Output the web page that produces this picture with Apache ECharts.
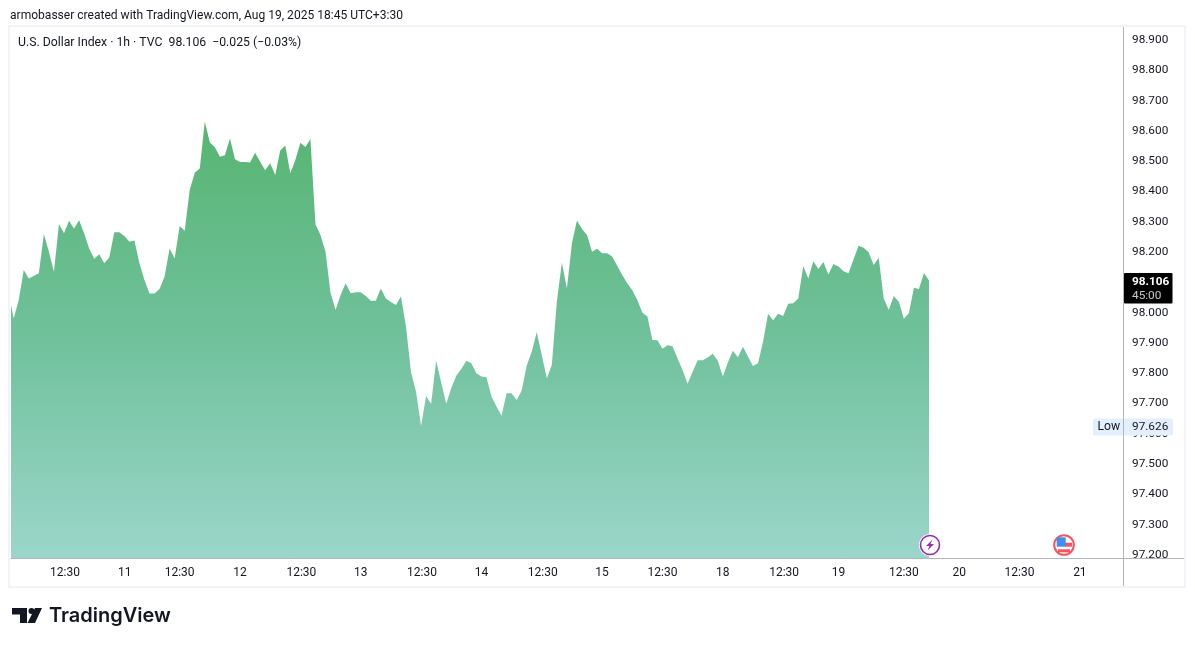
<!DOCTYPE html>
<html><head><meta charset="utf-8">
<style>html,body{margin:0;padding:0;background:#fff}#c{width:1195px;height:646px}</style>
<script src="https://cdn.jsdelivr.net/npm/echarts@6/dist/echarts.min.js"></script>
</head><body><div id="c"></div>
<script>
const prices = [98.064,97.981,98.042,98.141,98.113,98.121,98.130,98.260,98.201,98.135,98.293,98.262,98.303,98.277,98.305,98.262,98.212,98.178,98.193,98.163,98.182,98.265,98.265,98.253,98.234,98.238,98.163,98.108,98.063,98.063,98.078,98.119,98.212,98.179,98.286,98.270,98.405,98.462,98.476,98.631,98.562,98.546,98.515,98.520,98.575,98.506,98.497,98.497,98.496,98.528,98.498,98.470,98.493,98.454,98.535,98.552,98.460,98.504,98.561,98.547,98.573,98.292,98.256,98.201,98.066,98.009,98.058,98.097,98.064,98.067,98.067,98.055,98.039,98.039,98.080,98.047,98.035,98.025,98.053,97.954,97.803,97.739,97.626,97.725,97.699,97.841,97.769,97.699,97.750,97.792,97.814,97.841,97.833,97.800,97.789,97.787,97.723,97.690,97.660,97.734,97.734,97.712,97.742,97.825,97.871,97.935,97.860,97.783,97.827,98.036,98.165,98.080,98.229,98.304,98.276,98.256,98.201,98.211,98.196,98.196,98.185,98.155,98.124,98.097,98.074,98.042,98.000,97.987,97.910,97.909,97.881,97.892,97.889,97.849,97.811,97.765,97.805,97.843,97.843,97.852,97.864,97.841,97.789,97.835,97.874,97.853,97.887,97.855,97.824,97.833,97.904,97.996,97.975,97.996,97.989,98.029,98.031,98.047,98.154,98.113,98.170,98.144,98.167,98.126,98.161,98.152,98.137,98.130,98.176,98.221,98.214,98.199,98.157,98.181,98.047,98.009,98.055,98.036,97.980,97.998,98.082,98.078,98.131,98.106];
const priceTicks = [97.2,97.3,97.4,97.5,97.6,97.7,97.8,97.9,98.0,98.2,98.3,98.4,98.5,98.6,98.7,98.8,98.9];
const timeLabels = ['12:30','11','12:30','12','12:30','13','12:30','14','12:30','15','12:30','18','12:30','19','12:30','20','12:30','21'];
const timeBars = [11.2,23.1,34,46,58.2,70,82.2,94,106.2,118,130,142,154.2,165,178,189,201,213];
const lastPrice = 98.106, lowPrice = 97.626;

const FONT = 'Roboto';
const TXT = '#131722';
const LINE = '#b2b5be';
const barPx = (929 - 8.67) / (prices.length - 1);
const chart = echarts.init(document.getElementById('c'), null, {renderer:'canvas'});
chart.setOption({
  animation:false,
  backgroundColor:'#fff',
  textStyle:{fontFamily:FONT},
  grid:{left:11,right:72,top:27,bottom:88,containLabel:false},
  xAxis:{type:'value',min:(11-8.67)/barPx,max:(1123-8.67)/barPx,
    splitLine:{show:false},axisTick:{show:false},
    axisLine:{show:true,onZero:false,lineStyle:{color:LINE,width:1}},
    axisLabel:{customValues:timeBars,color:TXT,fontSize:12,fontFamily:FONT,margin:9,showMinLabel:true,showMaxLabel:true,hideOverlap:false,
      formatter:(v)=>timeLabels[timeBars.indexOf(v)]}},
  yAxis:{type:'value',position:'right',min:97.19,max:98.943,
    splitLine:{show:false},axisTick:{show:false},
    axisLine:{show:true,onZero:false,lineStyle:{color:LINE,width:1}},
    axisLabel:{customValues:priceTicks,color:TXT,fontSize:11.8,fontFamily:FONT,margin:9,padding:[7,0,0,0],align:'left',hideOverlap:false,
      formatter:(v)=>v.toFixed(3)}},
  series:[{type:'line',data:prices.map((p,i)=>[i,p]),symbol:'none',showSymbol:false,smooth:false,
    lineStyle:{width:0},
    areaStyle:{opacity:1,color:new echarts.graphic.LinearGradient(0,0,0,1,[{offset:0,color:'#57b571'},{offset:0.5,color:'#70c19c'},{offset:1,color:'#9bd6ca'}])}}]
});
const yLast = chart.convertToPixel({yAxisIndex:0},lastPrice);
const yLow = chart.convertToPixel({yAxisIndex:0},lowPrice);
const t=(x,y,text,o={})=>({type:'text',z:20,style:Object.assign({x,y,text,fill:TXT,font:'11.8px '+FONT,textVerticalAlign:'middle'},o)});
const g=[
  {type:'rect',z:1,shape:{x:9,y:26,width:1176,height:561},style:{fill:'none',stroke:'#f0f3fa',lineWidth:2}},
  {type:'rect',z:15,shape:{x:1124,y:558.5,width:59,height:27},style:{fill:'#fff'}},
  {type:'line',z:16,shape:{x1:1123.5,y1:558,x2:1123.5,y2:586},style:{stroke:LINE,lineWidth:1}},
  {type:'line',z:16,shape:{x1:1123,y1:558.5,x2:1184,y2:558.5},style:{stroke:LINE,lineWidth:1}},
  t(10,15.5,'armobasser created with TradingView.com, Aug 19, 2025 18:45 UTC+3:30',{font:'12.05px '+FONT}),
  t(18,43,'U.S. Dollar Index · 1h · TVC  98.106  −0.025 (−0.03%)',{font:'12.25px '+FONT}),
  {type:'rect',z:17,shape:{x:1124,y:yLast-7.5,width:48.5,height:30.5,r:1},style:{fill:'#000'}},
  t(1132,yLast+1.5,'98.106',{fill:'#fff',font:'bold 11.8px '+FONT}),
  t(1132,yLast+15.5,'45:00',{fill:'#c8c8c8'}),
  {type:'rect',z:17,shape:{x:1093,y:yLow-7.5,width:80,height:17,r:2},style:{fill:'#e3effd'}},
  {type:'line',z:18,shape:{x1:1123.5,y1:yLow-7.5,x2:1123.5,y2:yLow+9.5},style:{stroke:LINE,lineWidth:1}},
  t(1097.5,yLow+1.5,'Low',{font:'12.2px '+FONT}),
  t(1132,yLow+1.5,'97.626'),
  // session-break marker
  {type:'circle',z:18,shape:{cx:930,cy:545,r:11},style:{fill:'#fff'}},
  {type:'circle',z:19,shape:{cx:930,cy:545,r:9.5},style:{fill:'#fff',stroke:'#9c27b0',lineWidth:1.6}},
  {type:'polygon',z:20,shape:{points:[[932.5,539.5],[926,546],[929.5,546],[927.5,550.5],[934,544],[930.5,544]]},style:{fill:'#9c27b0'}},
  // US event marker
  {type:'circle',z:18,shape:{cx:1064,cy:545,r:11},style:{fill:'#fff'}},
  {type:'circle',z:19,shape:{cx:1064,cy:545,r:9.8},style:{fill:'#fff',stroke:'#f7525f',lineWidth:2}},
  {type:'rect',z:20,shape:{x:1065,y:542.7,width:7,height:4},style:{fill:'#f7525f'}},
  {type:'rect',z:20,shape:{x:1058,y:549.3,width:12,height:3},style:{fill:'#f7525f'}},
  {type:'rect',z:20,shape:{x:1056.7,y:537.3,width:9,height:9.4},style:{fill:'#3d8ff0'}},
  // logo
  {type:'polygon',z:20,shape:{points:[[12,608],[27,608],[27,623],[20,623],[20,614.5],[12,614.5]]},style:{fill:'#131722'}},
  {type:'circle',z:20,shape:{cx:31.5,cy:611,r:3},style:{fill:'#131722'}},
  {type:'polygon',z:20,shape:{points:[[35,608],[42,608],[35,623],[27.5,623]]},style:{fill:'#131722'}},
  t(49,616,'TradingView',{font:'600 20px Inter',fill:'#131722'})
];
chart.setOption({graphic:g});
</script></body></html>
